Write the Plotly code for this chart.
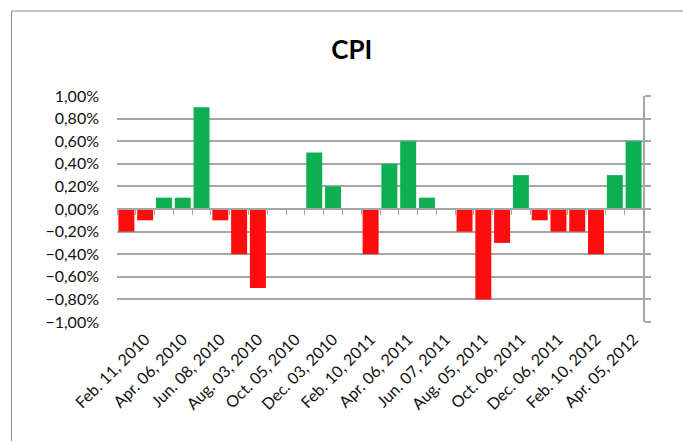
import plotly.graph_objects as go

# 28 monthly observations (Jan 2010 .. Apr 2012), labels every second month
months = list(range(1, 29))
cpi = [-0.002, -0.001, 0.001, 0.001, 0.009, -0.001, -0.004, -0.007, 0.0, 0.0,
       0.005, 0.002, 0.0, -0.004, 0.004, 0.006, 0.001, 0.0, -0.002, -0.008,
       -0.003, 0.003, -0.001, -0.002, -0.002, -0.004, 0.003, 0.006]
tick_positions = list(range(2, 29, 2))
tick_labels = ["Feb. 11, 2010", "Apr. 06, 2010", "Jun. 08, 2010", "Aug. 03, 2010",
               "Oct. 05, 2010", "Dec. 03, 2010", "Feb. 10, 2011", "Apr. 06, 2011",
               "Jun. 07, 2011", "Aug. 05, 2011", "Oct. 06, 2011", "Dec. 06, 2011",
               "Feb. 10, 2012", "Apr. 05, 2012"]

GREEN = "#0DB050"
RED = "#FF0D0D"
GRID = "#A6A6A6"
colors = [GREEN if v > 0 else RED for v in cpi]

fig = go.Figure()
fig.add_trace(go.Bar(x=months, y=cpi, marker=dict(color=colors, line=dict(width=0)),
                     hoverinfo="skip"))

L, R, T, B = 117, 643, 96, 322
W, H = 683, 441
font = "Lato, 'Open Sans', sans-serif"

fig.update_layout(
    width=W, height=H,
    margin=dict(l=L, r=W - R, t=T, b=H - B, pad=0),
    paper_bgcolor="#FFFFFF", plot_bgcolor="rgba(0,0,0,0)",
    separators=",.",
    showlegend=False,
    bargap=0.15,
    title=dict(text="<b>CPI</b>", x=0.515, xref="container", xanchor="center",
               y=1 - 50 / H, yref="container", yanchor="middle",
               font=dict(family=font, size=26, color="#000000")),
    xaxis=dict(range=[0.5, 28.5], tickmode="array", tickvals=tick_positions,
               ticktext=tick_labels, tickangle=-45, showgrid=False, zeroline=False,
               showline=False, ticks="", automargin=False,
               tickfont=dict(family=font, size=16, color="#111"),
               ticklabelstandoff=4),
    xaxis2=dict(range=[0.5, 28.5], overlaying="x", anchor="free", position=0.5,
                tickmode="array", tickvals=[k + 0.5 for k in range(0, 29)],
                ticks="outside", ticklen=5, tickcolor=GRID, tickwidth=1,
                showticklabels=False, showgrid=False, zeroline=False, automargin=False,
                showline=True, linecolor=GRID, linewidth=1.5),
    yaxis=dict(range=[-0.01, 0.01], dtick=0.002, tickformat=".2%",
               showgrid=True, gridcolor=GRID, gridwidth=1.5, zeroline=False,
               showline=False, ticks="", ticklabelstandoff=17, automargin=False,
               tickfont=dict(family=font, size=16, color="#111")),
    yaxis2=dict(range=[-0.01, 0.01], dtick=0.002, overlaying="y", side="right",
                showticklabels=False, showgrid=False, zeroline=False, automargin=False,
                showline=True, linecolor=GRID, linewidth=1.5,
                ticks="outside", ticklen=6, tickcolor=GRID, tickwidth=1.5),
)
# invisible trace to make the secondary axes render
fig.add_trace(go.Scatter(x=[1], y=[0], xaxis="x2", yaxis="y2", mode="markers",
                         marker=dict(opacity=0), hoverinfo="skip"))

pw, ph = R - L, B - T
fig.add_shape(type="line", xref="paper", yref="paper",
              x0=(11.5 - L) / pw, x1=(11.5 - L) / pw, y0=(B - 11) / ph, y1=(B - 445) / ph,
              line=dict(color="#888888", width=1))
fig.add_shape(type="line", xref="paper", yref="paper",
              x0=(11.5 - L) / pw, x1=(690 - L) / pw, y0=(B - 11) / ph, y1=(B - 11) / ph,
              line=dict(color="#888888", width=1))

fig.write_html("out.html", config={"displayModeBar": False},
               post_script="document.body.style.margin='0';document.body.style.overflow='hidden';")
